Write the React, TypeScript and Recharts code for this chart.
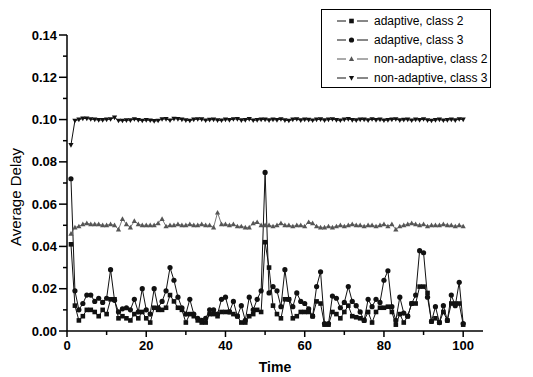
import { LineChart, Line, XAxis, YAxis, Legend, Label } from "recharts";

const time = Array.from({ length: 100 }, (_, i) => i + 1);

const adaptiveClass2 = [
  0.041, 0.012, 0.005, 0.007, 0.01, 0.01, 0.009, 0.007, 0.01, 0.008,
  0.015, 0.015, 0.006, 0.007, 0.006, 0.005, 0.008, 0.006, 0.009, 0.006,
  0.004, 0.011, 0.01, 0.01, 0.011, 0.017, 0.014, 0.011, 0.01, 0.004,
  0.008, 0.007, 0.005, 0.004, 0.004, 0.008, 0.008, 0.007, 0.009, 0.009,
  0.009, 0.008, 0.007, 0.004, 0.004, 0.007, 0.008, 0.01, 0.009, 0.042,
  0.03, 0.012, 0.008, 0.006, 0.015, 0.015, 0.006, 0.007, 0.009, 0.009,
  0.009, 0.007, 0.014, 0.013, 0.003, 0.003, 0.009, 0.008, 0.006, 0.009,
  0.012, 0.007, 0.0065, 0.006, 0.005, 0.009, 0.004, 0.009, 0.011, 0.011,
  0.0115, 0.009, 0.003, 0.008, 0.004, 0.007, 0.013, 0.013, 0.021, 0.021,
  0.018, 0.0045, 0.006, 0.004, 0.009, 0.005, 0.013, 0.013, 0.013, 0.003,
];

const adaptiveClass3 = [
  0.072, 0.019, 0.01, 0.013, 0.017, 0.017, 0.014, 0.0155, 0.0135, 0.0155,
  0.029, 0.0145, 0.009, 0.0105, 0.011, 0.01, 0.015, 0.009, 0.02, 0.01,
  0.008, 0.02, 0.011, 0.014, 0.019, 0.03, 0.024, 0.016, 0.011, 0.008,
  0.015, 0.008, 0.006, 0.005, 0.006, 0.01, 0.01, 0.008, 0.015, 0.016,
  0.009, 0.014, 0.007, 0.012, 0.005, 0.016, 0.01, 0.015, 0.019, 0.075,
  0.018, 0.021, 0.019, 0.0115, 0.029, 0.015, 0.0115, 0.018, 0.014, 0.013,
  0.0105, 0.007, 0.021, 0.028, 0.0035, 0.0035, 0.0165, 0.0155, 0.011, 0.0135,
  0.021, 0.014, 0.012, 0.009, 0.005, 0.015, 0.0115, 0.015, 0.0135, 0.024,
  0.0285, 0.0115, 0.005, 0.016, 0.0085, 0.007, 0.013, 0.017, 0.038, 0.037,
  0.016, 0.0045, 0.0115, 0.004, 0.012, 0.005, 0.017, 0.012, 0.023, 0.0035,
];

const nonAdaptiveClass2 = [
  0.046, 0.049, 0.0495, 0.0505, 0.051, 0.0505, 0.0505, 0.0505, 0.05, 0.05,
  0.0505, 0.05, 0.048, 0.053, 0.0505, 0.049, 0.052, 0.0505, 0.05, 0.05,
  0.05, 0.05, 0.051, 0.053, 0.0495, 0.05, 0.05, 0.0505, 0.05, 0.05,
  0.0505, 0.05, 0.05, 0.0505, 0.05, 0.05, 0.049, 0.056, 0.0505, 0.0505,
  0.05, 0.0505, 0.0495, 0.0495, 0.049, 0.049, 0.051, 0.0515, 0.05, 0.05,
  0.05, 0.0495, 0.05, 0.051, 0.05, 0.05, 0.0495, 0.05, 0.05, 0.0495,
  0.0515, 0.051, 0.0495, 0.049, 0.049, 0.0495, 0.049, 0.0495, 0.05, 0.0495,
  0.05, 0.0505, 0.05, 0.05, 0.0495, 0.05, 0.05, 0.0495, 0.05, 0.0505,
  0.0495, 0.0505, 0.048, 0.0495, 0.05, 0.0505, 0.051, 0.0505, 0.05, 0.0505,
  0.0495, 0.05, 0.05, 0.05, 0.0505, 0.05, 0.05, 0.0495, 0.05, 0.0495,
];

const nonAdaptiveClass3 = [
  0.088, 0.0995, 0.1, 0.1005, 0.1005, 0.1002, 0.1, 0.0998, 0.0998, 0.1,
  0.1002, 0.101, 0.0995, 0.0995, 0.0997, 0.0997, 0.1002, 0.0998, 0.0995, 0.0998,
  0.0996, 0.0993, 0.0995, 0.1002, 0.1003, 0.0996, 0.1004, 0.1003, 0.1, 0.0997,
  0.0995, 0.1, 0.1002, 0.1001, 0.0996, 0.0999, 0.1, 0.0997, 0.0996, 0.1,
  0.0998, 0.1002, 0.1003, 0.0997, 0.0998, 0.1003, 0.0996, 0.0998, 0.1, 0.1,
  0.0997, 0.1, 0.0998, 0.1002, 0.0997, 0.0995, 0.1, 0.1002, 0.0997, 0.1,
  0.0999, 0.0996, 0.1, 0.1001, 0.0997, 0.1, 0.1002, 0.0998, 0.0996, 0.1,
  0.1003, 0.0998, 0.0997, 0.1, 0.1, 0.0997, 0.1002, 0.0998, 0.1, 0.0996,
  0.0998, 0.1, 0.1002, 0.0997, 0.0999, 0.1, 0.0996, 0.1, 0.0998, 0.1002,
  0.0997, 0.0995, 0.0998, 0.1, 0.0996, 0.0998, 0.1, 0.0997, 0.1002, 0.1,
];

const xTicks = [0, 10, 20, 30, 40, 50, 60, 70, 80, 90, 100];
const yTicks = [0, 0.01, 0.02, 0.03, 0.04, 0.05, 0.06, 0.07, 0.08, 0.09, 0.1, 0.11, 0.12, 0.13, 0.14];

const data = time.map((t, i) => ({
  t,
  a2: adaptiveClass2[i],
  a3: adaptiveClass3[i],
  n2: nonAdaptiveClass2[i],
  n3: nonAdaptiveClass3[i],
}));

const FONT = '"Liberation Sans", Arial, sans-serif';

type Shape = "square" | "circle" | "up" | "down";

function Marker({ shape, cx, cy, fill }: { shape: Shape; cx: number; cy: number; fill: string }) {
  if (shape === "square") return <rect x={cx - 2.3} y={cy - 2.3} width={4.6} height={4.6} fill={fill} />;
  if (shape === "circle") return <circle cx={cx} cy={cy} r={2.6} fill={fill} />;
  if (shape === "up")
    return <polygon points={`${cx},${cy - 2.7} ${cx - 2.6},${cy + 2} ${cx + 2.6},${cy + 2}`} fill={fill} />;
  return <polygon points={`${cx},${cy + 2.7} ${cx - 2.6},${cy - 2} ${cx + 2.6},${cy - 2}`} fill={fill} />;
}

const series = [
  { key: "a2", name: "adaptive, class 2", shape: "square" as Shape, color: "#111", width: 1 },
  { key: "a3", name: "adaptive, class 3", shape: "circle" as Shape, color: "#111", width: 1 },
  { key: "n2", name: "non-adaptive, class 2", shape: "up" as Shape, color: "#555", width: 0.8 },
  { key: "n3", name: "non-adaptive, class 3", shape: "down" as Shape, color: "#111", width: 1 },
];

const YTick = ({ x, y, payload }: any) => {
  const major = Math.round(payload.value * 100) % 2 === 0;
  return (
    <g>
      <line x1={x} x2={x - (major ? 8 : 4)} y1={y} y2={y} stroke="#000" strokeWidth={1.5} />
      {major && (
        <text x={x - 10} y={y} dy={4.5} textAnchor="end" fontSize={13} fontWeight="bold" fontFamily={FONT} fill="#000">
          {payload.value.toFixed(2)}
        </text>
      )}
    </g>
  );
};

const XTick = ({ x, y, payload }: any) => {
  const major = payload.value % 20 === 0;
  return (
    <g>
      <line x1={x} x2={x} y1={y} y2={y + (major ? 6 : 4)} stroke="#000" strokeWidth={1.5} />
      {major && (
        <text x={x} y={y + 19} textAnchor="middle" fontSize={13} fontWeight="bold" fontFamily={FONT} fill="#000">
          {payload.value}
        </text>
      )}
    </g>
  );
};

const LegendBox = () => (
  <div
    style={{
      border: "1px solid #000",
      background: "#fff",
      width: 170,
      height: 79,
      boxSizing: "border-box",
      padding: "1px 0 0 14px",
      fontFamily: FONT,
      fontSize: 12,
      color: "#000",
      whiteSpace: "nowrap",
    }}
  >
    {series.map((s) => (
      <div key={s.key} style={{ display: "flex", alignItems: "center", height: 19 }}>
        <svg width={36} height={10} style={{ marginRight: 2, flexShrink: 0 }}>
          <line x1={1} x2={10} y1={5} y2={5} stroke={s.color} strokeWidth={1} />
          <line x1={21} x2={32} y1={5} y2={5} stroke={s.color} strokeWidth={1} />
          <Marker shape={s.shape} cx={15.5} cy={5} fill={s.color} />
        </svg>
        <span>{s.name}</span>
      </div>
    ))}
  </div>
);

export default function App() {
  return (
    <div style={{ position: "absolute", left: 0, top: 0, background: "#fff" }}>
      <LineChart width={533} height={377} data={data} margin={{ top: 35, right: 50, bottom: 0, left: 0 }}>
        <XAxis
          dataKey="t"
          type="number"
          domain={[0, 105]}
          ticks={xTicks}
          interval={0}
          height={46}
          tickSize={0}
          tickMargin={0}
          tick={<XTick />}
          axisLine={{ stroke: "#000", strokeWidth: 1.5 }}
          tickLine={false}
        >
          <Label
            value="Time"
            position="insideBottom"
            offset={5}
            style={{ fontFamily: FONT, fontSize: 14, fontWeight: "bold", fill: "#000" }}
          />
        </XAxis>
        <YAxis
          type="number"
          domain={[0, 0.14]}
          ticks={yTicks}
          interval={0}
          width={67}
          tickSize={0}
          tickMargin={0}
          tick={<YTick />}
          axisLine={{ stroke: "#000", strokeWidth: 1.5 }}
          tickLine={false}
        >
          <Label
            value="Average Delay"
            angle={-90}
            position="insideLeft"
            offset={16}
            dy={14}
            style={{ fontFamily: FONT, fontSize: 15, fill: "#000", textAnchor: "middle" }}
          />
        </YAxis>
        <Legend
          layout="vertical"
          align="center"
          verticalAlign="middle"
          content={<LegendBox />}
          wrapperStyle={{ left: 321, top: 9, width: 170, height: 79 }}
        />
        {series.map((s) => (
          <Line
            key={s.key}
            dataKey={s.key}
            name={s.name}
            type="linear"
            stroke={s.color}
            strokeWidth={s.width}
            isAnimationActive={false}
            activeDot={false}
            dot={(p: any) => <Marker key={`${s.key}-${p.index}`} shape={s.shape} cx={p.cx} cy={p.cy} fill={s.color} />}
          />
        ))}
      </LineChart>
    </div>
  );
}
